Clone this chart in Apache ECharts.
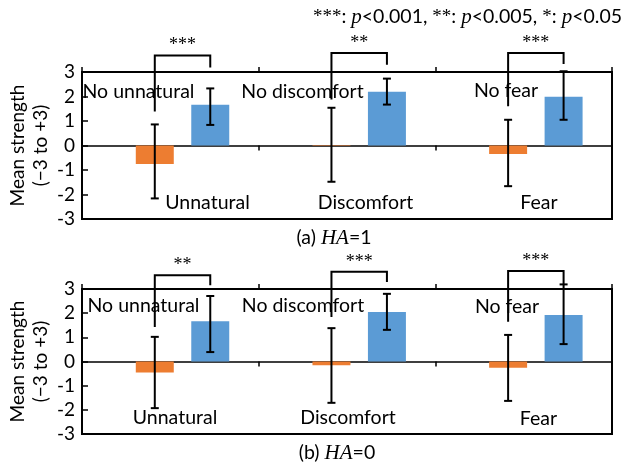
<!DOCTYPE html>
<html><head><meta charset="utf-8">
<script src="https://cdn.jsdelivr.net/npm/echarts@6/dist/echarts.min.js"></script>
<style>html,body{margin:0;padding:0;background:#fff}#chart{width:624px;height:465px}</style>
</head><body><div id="chart"></div>
<script>
// ---------- data ----------
const categories = ['Unnatural', 'Discomfort', 'Fear'];
// Panel (a) HA=1
const negA = [-0.76, -0.02, -0.35];
const negLowA = [-2.16, -1.48, -1.66];
const negHighA = [0.86, 1.54, 1.05];
const posA = [1.66, 2.19, 1.99];
const posLowA = [0.84, 1.67, 1.05];
const posHighA = [2.33, 2.73, 3.03];
const sigA = ['***', '**', '***'];
const brLeftA = [1.39, 1.88, 1.60];
const brRightA = [3.18, 3.30, 3.33];
const brTopA = [3.67, 3.78, 3.78];
// Panel (b) HA=0
const negB = [-0.46, -0.16, -0.26];
const negLowB = [-1.93, -1.71, -1.63];
const negHighB = [1.02, 1.38, 1.10];
const posB = [1.67, 2.05, 1.92];
const posLowB = [0.39, 1.31, 0.72];
const posHighB = [2.71, 2.80, 3.19];
const sigB = ['**', '***', '***'];
const brLeftB = [1.43, 1.84, 1.64];
const brRightB = [3.16, 3.29, 3.20];
const brTopB = [3.57, 3.71, 3.74];
const negLabels = ['Unnatural', 'Discomfort', 'Fear'];
const posLabels = ['No unnatural', 'No discomfort', 'No fear'];

// ---------- style ----------
const SANS = 'Lato';
const SERIF = 'Liberation Serif';
const ORANGE = '#ED7D31';
const BLUE = '#5B9BD5';
const NEG_OFF = -0.088, POS_OFF = 0.226, BAR_W = 0.215;

const chart = echarts.init(document.getElementById('chart'), null, {renderer: 'canvas'});

function barSeries(g, vals, lows, highs, color, off) {
  return {
    type: 'custom', xAxisIndex: g * 2, yAxisIndex: g, clip: false, z: 3,
    data: vals.map((v, i) => [i, v, lows[i], highs[i]]),
    renderItem(params, api) {
      const i = api.value(0);
      const band = api.size([1, 0])[0];
      const base = api.coord([i, 0]);
      const cx = base[0] + off * band;
      const w = BAR_W * band;
      const yv = api.coord([i, api.value(1)])[1];
      const yl = api.coord([i, api.value(2)])[1];
      const yh = api.coord([i, api.value(3)])[1];
      const ls = {stroke: '#000', lineWidth: 2};
      return {type: 'group', children: [
        {type: 'rect', shape: {x: cx - w / 2, y: Math.min(yv, base[1]), width: w, height: Math.abs(yv - base[1])}, style: {fill: color}},
        {type: 'line', shape: {x1: cx, y1: yl, x2: cx, y2: yh}, style: ls},
        {type: 'line', shape: {x1: cx - 4, y1: yl, x2: cx + 4, y2: yl}, style: ls},
        {type: 'line', shape: {x1: cx - 4, y1: yh, x2: cx + 4, y2: yh}, style: ls}
      ]};
    }
  };
}

function bracketSeries(g, lefts, rights, tops, sigs) {
  return {
    type: 'custom', xAxisIndex: g * 2, yAxisIndex: g, clip: false, z: 4,
    data: lefts.map((v, i) => [i, v, rights[i], tops[i]]),
    renderItem(params, api) {
      const i = api.value(0);
      const band = api.size([1, 0])[0];
      const base = api.coord([i, 0]);
      const xl = base[0] + NEG_OFF * band;
      const xr = base[0] + POS_OFF * band;
      const yl = api.coord([i, api.value(1)])[1];
      const yr = api.coord([i, api.value(2)])[1];
      const yt = api.coord([i, api.value(3)])[1];
      return {type: 'group', children: [
        {type: 'polyline', shape: {points: [[xl, yl], [xl, yt], [xr, yt], [xr, yr]]}, style: {stroke: '#000', lineWidth: 2, fill: null}},
        {type: 'text', x: (xl + xr) / 2, y: yt - 10, style: {text: sigs[params.dataIndex], font: '18px ' + SERIF, fill: '#000', align: 'center', verticalAlign: 'middle'}}
      ]};
    }
  };
}

function xAxes(g) {
  const common = {type: 'category', gridIndex: g, data: categories, boundaryGap: true,
    axisLabel: {show: false}, splitLine: {show: false}};
  return [
    Object.assign({}, common, {position: 'bottom',
      axisLine: {show: true, onZero: true, lineStyle: {color: '#000', width: 1.5}},
      axisTick: {show: true, length: 5, lineStyle: {color: '#000', width: 1.5}}}),
    Object.assign({}, common, {position: 'top',
      axisLine: {show: false, onZero: true},
      axisTick: {show: true, length: 5, lineStyle: {color: '#000', width: 1.5}}})
  ];
}

function yAxis(g) {
  return {type: 'value', gridIndex: g, min: -3, max: 3, interval: 1,
    axisLine: {show: false},
    axisTick: {show: true, inside: true, length: 6, lineStyle: {color: '#000', width: 1.5}},
    splitLine: {show: false},
    axisLabel: {color: '#000', fontSize: 19, fontFamily: SANS, margin: 7},
    name: 'Mean strength\n(\u22123 to +3)', nameLocation: 'middle', nameRotate: 90, nameGap: 30,
    nameMoveOverlap: false,
    nameTextStyle: {color: '#000', fontSize: 19, lineHeight: 23, fontFamily: SANS, align: 'center'}
  };
}

function txt(text, x, y, align) {
  return {type: 'text', x: x, y: y, z: 10, style: {text: text, font: '19.5px ' + SANS, fill: '#000', align: align || 'center', verticalAlign: 'middle'}};
}

const richStyles = {
  i: {fontFamily: SERIF, fontStyle: 'italic', fontSize: 21, fill: '#000'},
  s: {fontFamily: SERIF, fontSize: 19, fill: '#000'}
};

const labelLayout = [
  // panel a
  [posLabels[0], 138.5, 92], [posLabels[1], 302.5, 92], [posLabels[2], 506, 91],
  [negLabels[0], 207.5, 203], [negLabels[1], 365.5, 203], [negLabels[2], 539, 203],
  // panel b
  [posLabels[0], 143.5, 306], [posLabels[1], 303, 306], [posLabels[2], 507, 307],
  [negLabels[0], 175, 418], [negLabels[1], 348, 418], [negLabels[2], 538.5, 419]
];

const graphics = labelLayout.map(l => txt(l[0], l[1], l[2]));
graphics.push({type: 'text', x: 622, y: 17, z: 10, style: {
  text: '{s|***}: {i|p}<0.001, {s|**}: {i|p}<0.005, {s|*}: {i|p}<0.05',
  font: '19.5px ' + SANS, fill: '#000', align: 'right', verticalAlign: 'middle', rich: richStyles}});
graphics.push({type: 'text', x: 334, y: 238, z: 10, style: {
  text: '(a) {i|HA}=1', font: '19.5px ' + SANS, fill: '#000', align: 'center', verticalAlign: 'middle', rich: richStyles}});
graphics.push({type: 'text', x: 337, y: 453, z: 10, style: {
  text: '(b) {i|HA}=0', font: '19.5px ' + SANS, fill: '#000', align: 'center', verticalAlign: 'middle', rich: richStyles}});

const option = {
  backgroundColor: '#fff',
  animation: false,
  grid: [
    {left: 82, right: 12, top: 72, height: 147, show: true, borderColor: '#000', borderWidth: 2, backgroundColor: 'transparent', containLabel: false, outerBoundsMode: 'none'},
    {left: 82, right: 12, top: 289, height: 145, show: true, borderColor: '#000', borderWidth: 2, backgroundColor: 'transparent', containLabel: false, outerBoundsMode: 'none'}
  ],
  xAxis: xAxes(0).concat(xAxes(1)),
  yAxis: [yAxis(0), yAxis(1)],
  series: [
    barSeries(0, negA, negLowA, negHighA, ORANGE, NEG_OFF),
    barSeries(0, posA, posLowA, posHighA, BLUE, POS_OFF),
    bracketSeries(0, brLeftA, brRightA, brTopA, sigA),
    barSeries(1, negB, negLowB, negHighB, ORANGE, NEG_OFF),
    barSeries(1, posB, posLowB, posHighB, BLUE, POS_OFF),
    bracketSeries(1, brLeftB, brRightB, brTopB, sigB)
  ],
  graphic: graphics
};
chart.setOption(option);
</script></body></html>
